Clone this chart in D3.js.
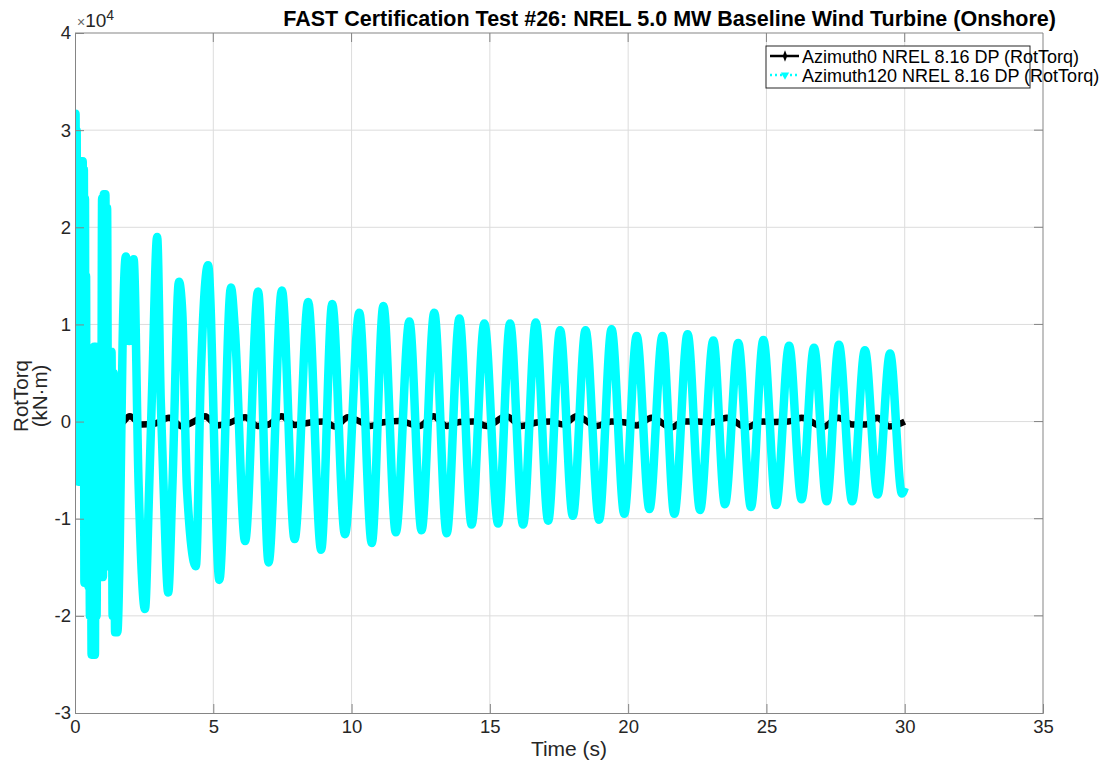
<!DOCTYPE html>
<html>
<head>
<meta charset="utf-8">
<script src="https://cdn.jsdelivr.net/npm/d3@7"></script>
<style>
  body { margin: 0; background: #fff; }
  text { font-family: "Liberation Sans", Arial, Helvetica, sans-serif; fill: #262626; }
</style>
</head>
<body>
<div id="chart"></div>
<script>
// values, y in units of 1e4 kN·m
const xTicks = [0, 5, 10, 15, 20, 25, 30, 35];
const yTicks = [-3, -2, -1, 0, 1, 2, 3, 4];

const az0Time = [0, 0.03, 0.07, 0.12, 0.3, 0.6, 0.9, 1.2, 1.6, 1.98, 2.4, 2.9, 3.4, 3.86, 4.3, 4.7,
  5.15, 5.6, 6.15, 6.6, 7.0, 7.47, 7.95, 8.5, 9.0, 9.4, 9.87, 10.3, 10.67, 11.1, 11.7, 12.47, 12.96,
  13.44, 13.9, 14.4, 14.89, 15.6, 16.15, 16.7, 17.2, 17.65, 18.14, 18.86, 19.4, 19.9, 20.3, 20.85,
  21.57, 22.0, 22.5, 23.0, 23.56, 24.29, 24.8, 25.3, 25.8, 26.27, 27.05, 27.6, 28.1, 28.6, 29.0,
  29.45, 30.0];
const az0Value = [0, 0.10, -0.26, 0.0, 0.03, -0.02, 0.02, -0.02, -0.03, 0.055, -0.03, -0.02, 0.04,
  -0.05, 0.0, 0.055, -0.04, -0.01, 0.045, -0.045, -0.03, 0.055, -0.035, -0.01, 0.0, -0.05, 0.045,
  0.0, -0.045, -0.01, 0.005, -0.045, 0.055, -0.045, -0.005, 0.0, -0.045, 0.055, -0.045, -0.01, 0.0,
  -0.03, 0.055, -0.045, 0.0, -0.01, -0.04, 0.04, -0.06, 0.0, 0.0, -0.01, 0.04, -0.06, 0.0, -0.005,
  0.0, 0.04, -0.055, 0.04, -0.03, -0.03, 0.04, -0.05, 0.0];

const az120Time = [0.00, 0.02, 0.04, 0.06, 0.08, 0.10, 0.12, 0.14, 0.16, 0.19, 0.21, 0.24, 0.26,
  0.28, 0.30, 0.32, 0.34, 0.36, 0.38, 0.40, 0.42, 0.45, 0.48, 0.51, 0.54, 0.57, 0.60, 0.63, 0.66,
  0.69, 0.72, 0.75, 0.78, 0.82, 0.86, 0.90, 0.94, 0.98, 1.01, 1.04, 1.07, 1.10, 1.13, 1.16, 1.20,
  1.24, 1.28, 1.32, 1.36, 1.40, 1.45, 1.50, 1.53, 1.62, 1.72, 1.84, 1.96, 2.12,
  2.30, 2.53, 2.68, 2.80, 2.97, 3.10, 3.20, 3.37, 3.52, 3.76, 3.88, 4.05, 4.37, 4.55, 4.81, 5.22,
  5.64, 5.78, 6.15, 6.62, 7.00, 7.48, 7.94, 8.43, 8.90, 9.30, 9.76, 10.28, 10.73, 11.15, 11.60,
  12.09, 12.53, 12.99, 13.44, 13.90, 14.34, 14.80, 15.30, 15.73, 16.20, 16.66, 17.11, 17.54, 18.00,
  18.46, 18.95, 19.40, 19.86, 20.31, 20.77, 21.24, 21.67, 22.15, 22.60, 23.08, 23.50, 23.98, 24.44,
  24.89, 25.35, 25.82, 26.27, 26.72, 27.18, 27.62, 28.10, 28.56, 29.02, 29.47, 29.90, 30.00];
const az120Value = [0.50, 3.17, 0.50, 3.00, -0.30, 2.60, -0.62, 2.40, -0.50, 2.20, -0.30, 2.68,
  0.00, 2.68, -0.50, 2.60, -1.66, 2.30, -1.60, 1.50, -1.66, 0.05, -1.70, 0.05, -2.00, 0.05, -2.40,
  0.50, -2.40, 0.77, -2.40, 0.77, -2.00, 0.77, -1.60, 0.60, -1.60, 2.30, -1.60, 2.34, -1.00, 2.34,
  -0.50, 2.20, -0.95, 0.72, -1.50, 0.72, -2.00, 0.50, -2.17, -0.50, -2.17, -1.25, 0.80,
  1.70, 0.83, 1.67, -0.65, -1.93, -0.70, 0.45, 1.90, 0.22, -0.65, -1.76, -0.68, 1.44, 1.12, -0.70,
  -1.49, 0.48, 1.61, -1.63, 1.38, 0.95, -1.23, 1.34, -1.45, 1.35, -1.21, 1.23, -1.32, 1.21, -1.16,
  1.12, -1.25, 1.19, -1.14, 1.03, -1.12, 1.12, -1.15, 1.06, -1.06, 1.01, -1.05, 1.01, -1.06, 1.02,
  -1.02, 0.94, -0.97, 0.94, -1.01, 0.95, -0.95, 0.88, -0.90, 0.88, -0.95, 0.90, -0.91, 0.835, -0.85,
  0.81, -0.88, 0.84, -0.86, 0.78, -0.80, 0.76, -0.82, 0.79, -0.82, 0.735, -0.75, 0.70, -0.74, -0.68];

const seriesNames = ["Azimuth0 NREL 8.16 DP (RotTorq)", "Azimuth120 NREL 8.16 DP (RotTorq)"];

const W = 1109, H = 766;
const margin = {top: 33, right: 66, bottom: 53, left: 75};

const svg = d3.select("#chart").append("svg")
    .attr("width", W)
    .attr("height", H)
    .style("background", "#fff");

const x = d3.scaleLinear().domain([0, 35]).range([margin.left, W - margin.right]);
const y = d3.scaleLinear().domain([-3, 4]).range([H - margin.bottom, margin.top]);

// grid
svg.append("g").selectAll("line.vg")
    .data(xTicks.slice(1, -1))
    .enter().append("line")
    .attr("x1", d => x(d)).attr("x2", d => x(d))
    .attr("y1", y(-3)).attr("y2", y(4))
    .attr("stroke", "#dcdcdc").attr("stroke-width", 1);
svg.append("g").selectAll("line.hg")
    .data(yTicks.slice(1, -1))
    .enter().append("line")
    .attr("x1", x(0)).attr("x2", x(35))
    .attr("y1", d => y(d)).attr("y2", d => y(d))
    .attr("stroke", "#dcdcdc").attr("stroke-width", 1);

// series
svg.append("clipPath").attr("id", "plotclip")
    .append("rect")
    .attr("x", x(0)).attr("y", y(4))
    .attr("width", x(35) - x(0)).attr("height", y(-3) - y(4));

const line = d3.line()
    .x(d => x(d[0]))
    .y(d => y(d[1]))
    .curve(d3.curveMonotoneX);

const plot = svg.append("g").attr("clip-path", "url(#plotclip)");

plot.append("path")
    .datum(d3.zip(az0Time, az0Value))
    .attr("d", line)
    .attr("fill", "none")
    .attr("stroke", "#000")
    .attr("stroke-width", 6.5)
    .attr("stroke-linejoin", "round");

plot.append("path")
    .datum(d3.zip(az120Time, az120Value))
    .attr("d", line)
    .attr("fill", "none")
    .attr("stroke", "#00ffff")
    .attr("stroke-width", 8.5)
    .attr("stroke-linejoin", "round");

// axes (MATLAB style: ticks inside, box)
const xAxis = d3.axisBottom(x).tickValues(xTicks).tickSize(-9).tickPadding(7).tickFormat(d => String(d));
const yAxis = d3.axisLeft(y).tickValues(yTicks).tickSize(-9).tickPadding(4).tickFormat(d => String(d));

const gx = svg.append("g")
    .attr("transform", `translate(0,${y(-3)})`)
    .call(xAxis);
const gy = svg.append("g")
    .attr("transform", `translate(${x(0)},0)`)
    .call(yAxis);

[gx, gy].forEach(g => {
    g.select(".domain").attr("stroke", "#858585");
    g.selectAll(".tick line").attr("stroke", "#858585");
    g.selectAll(".tick text")
        .style("font-size", "18.5px")
        .style("fill", "#262626")
        .style("font-family", "Liberation Sans, Arial, sans-serif");
});

// box top & right
svg.append("line")
    .attr("x1", x(0)).attr("x2", x(35)).attr("y1", y(4)).attr("y2", y(4))
    .attr("stroke", "#858585");
svg.append("line")
    .attr("x1", x(35)).attr("x2", x(35)).attr("y1", y(4)).attr("y2", y(-3))
    .attr("stroke", "#858585");
svg.append("g").selectAll("line.rt")
    .data(yTicks.slice(1, -1))
    .enter().append("line")
    .attr("x1", x(35)).attr("x2", x(35) - 9)
    .attr("y1", d => y(d)).attr("y2", d => y(d))
    .attr("stroke", "#858585");
svg.append("g").selectAll("line.tt")
    .data(xTicks.slice(1, -1))
    .enter().append("line")
    .attr("x1", d => x(d)).attr("x2", d => x(d))
    .attr("y1", y(4)).attr("y2", y(4) + 9)
    .attr("stroke", "#858585");

// exponent label
const expo = svg.append("text")
    .attr("x", x(0) + 2)
    .attr("y", y(4) - 6)
    .style("font-size", "19px");
expo.append("tspan").text("×").style("font-size", "14px").style("fill", "#666");
expo.append("tspan").text("10");
expo.append("tspan").text("4").attr("dy", "-7").style("font-size", "14px");

// title
svg.append("text")
    .attr("x", 1056)
    .attr("y", 26)
    .attr("text-anchor", "end")
    .style("font-size", "21.5px")
    .style("font-weight", "bold")
    .style("fill", "#000")
    .text("FAST Certification Test #26: NREL 5.0 MW Baseline Wind Turbine (Onshore)");

// axis labels
svg.append("text")
    .attr("x", 569)
    .attr("y", 756)
    .attr("text-anchor", "middle")
    .style("font-size", "21px")
    .text("Time (s)");

const yl = svg.append("text")
    .attr("transform", `translate(28,${396}) rotate(-90)`)
    .attr("text-anchor", "middle")
    .style("font-size", "20.5px");
yl.append("tspan").attr("x", 0).attr("dy", 0).text("RotTorq");
yl.append("tspan").attr("x", 0).attr("dy", "0.95em").text("(kN·m)");

// legend (text runs past the box, as in the original)
const lg = svg.append("g").attr("transform", "translate(766,46)");
lg.append("rect")
    .attr("width", 264).attr("height", 42)
    .attr("fill", "#fff")
    .attr("stroke", "#262626").attr("stroke-width", 1);

const rows = [
    {name: seriesNames[0], color: "#000", dash: null, marker: d3.symbolDiamond},
    {name: seriesNames[1], color: "#00ffff", dash: "2,3", marker: d3.symbolTriangle}
];
rows.forEach((r, i) => {
    const ry = 10 + i * 19;
    lg.append("line")
        .attr("x1", 4).attr("x2", 33)
        .attr("y1", ry).attr("y2", ry)
        .attr("stroke", r.color)
        .attr("stroke-width", 2.5)
        .attr("stroke-dasharray", r.dash);
    lg.append("path")
        .attr("d", d3.symbol().type(r.marker).size(i === 0 ? 26 : 30)())
        .attr("transform", `translate(19,${ry}) ${i === 1 ? "rotate(180)" : "scale(0.8,1.2)"}`)
        .attr("fill", r.color);
    lg.append("text")
        .attr("x", 36)
        .attr("y", ry + 6.5)
        .style("font-size", "18px")
        .style("fill", "#000")
        .text(r.name);
});
</script>
</body>
</html>
